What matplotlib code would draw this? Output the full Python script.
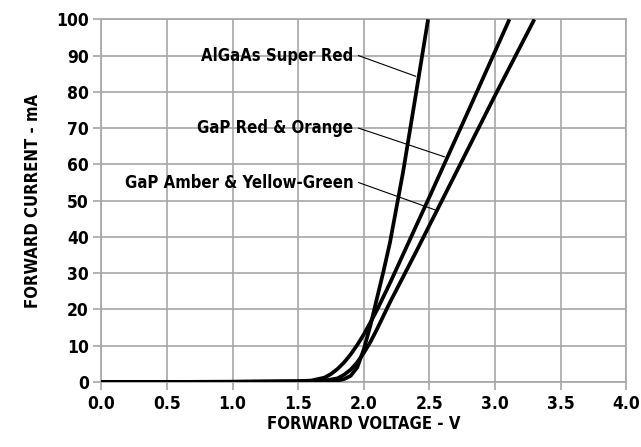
import matplotlib
matplotlib.use('Agg')
import matplotlib.pyplot as plt
from matplotlib import font_manager

# look for a narrow / condensed bold face
narrow = None
for f in font_manager.fontManager.ttflist:
    fn = f.fname.lower()
    if ('condensed' in fn or 'narrow' in fn) and 'bold' in fn and 'oblique' not in fn and 'italic' not in fn:
        if 'sans' in fn and 'mono' not in fn and 'serif' not in fn.replace('sans', ''):
            narrow = f.fname
            break

plt.rcParams['font.family'] = ['DejaVu Sans']
if narrow:
    font_manager.fontManager.addfont(narrow)
    fp = font_manager.FontProperties(fname=narrow)
else:
    fp = font_manager.FontProperties(family='DejaVu Sans', weight='bold')

# curves (forward voltage V, forward current mA)
super_red_v = [0.0, 1.5, 1.8, 1.85, 1.9, 1.95, 2.0, 2.05, 2.1, 2.15, 2.2, 2.3, 2.4, 2.49]
super_red_i = [0.0, 0.1, 0.4, 0.8, 1.7, 4.0, 9.0, 15.5, 23.0, 30.5, 38.5, 58.0, 80.0, 100.0]

red_orange_v = [0.0, 1.0, 1.5, 1.6, 1.7, 1.75, 1.8, 1.85, 1.9, 1.95, 2.0, 2.05, 2.1, 2.2, 2.5, 2.8, 3.11]
red_orange_i = [0.0, 0.05, 0.2, 0.4, 1.2, 2.2, 3.6, 5.4, 7.6, 10.2, 13.1, 16.4, 19.8, 27.3, 51.0, 75.0, 100.0]

amber_v = [0.0, 1.0, 1.5, 1.7, 1.8, 1.85, 1.9, 1.95, 2.0, 2.05, 2.1, 2.2, 2.3, 2.4, 2.7, 3.0, 3.3]
amber_i = [0.0, 0.05, 0.2, 0.4, 1.0, 2.0, 3.4, 5.4, 8.0, 11.0, 14.5, 22.0, 29.0, 36.0, 57.5, 79.0, 100.0]

labels = ['AlGaAs Super Red', 'GaP Red & Orange', 'GaP Amber & Yellow-Green']
label_y = [90, 70, 55]
leader_end_v = [2.395, 2.614, 2.563]
leader_end_i = [84.3, 62.1, 47.2]

x_ticks = [0.0, 0.5, 1.0, 1.5, 2.0, 2.5, 3.0, 3.5, 4.0]
y_ticks = [0, 10, 20, 30, 40, 50, 60, 70, 80, 90, 100]

fig = plt.figure(figsize=(6.41, 4.47), dpi=100)
ax = fig.add_axes([0.158, 0.1454, 0.819, 0.8114])

grey = '#a6a6a6'
for v, i in [(super_red_v, super_red_i), (red_orange_v, red_orange_i), (amber_v, amber_i)]:
    ax.plot(v, i, color='black', lw=2.7, solid_capstyle='butt', solid_joinstyle='round', zorder=3)

for lab, ly, ev, ei in zip(labels, label_y, leader_end_v, leader_end_i):
    ax.text(1.92, ly, lab, ha='right', va='center', fontproperties=fp, fontsize=12, zorder=4)
    ax.plot([1.96, ev], [ly, ei], color='black', lw=0.8, zorder=4)

ax.set_xlim(0, 4.0)
ax.set_ylim(0, 100)
ax.set_xticks(x_ticks)
ax.set_xticklabels(['%.1f' % t for t in x_ticks])
ax.set_yticks(y_ticks)
ax.grid(True, color=grey, lw=1.2)
ax.set_axisbelow(True)
for s in ax.spines.values():
    s.set_color(grey)
    s.set_linewidth(1.2)
ax.tick_params(colors=grey, labelcolor='black', length=6, width=1.2, pad=3)
for t in ax.get_xticklabels() + ax.get_yticklabels():
    t.set_fontproperties(fp)
    t.set_fontsize(12.5)

ax.set_xlabel('FORWARD VOLTAGE - V', fontproperties=fp, fontsize=12, labelpad=2)
ax.set_ylabel('FORWARD CURRENT - mA', fontproperties=fp, fontsize=12, labelpad=10)

fig.savefig('out.png', dpi=100)
